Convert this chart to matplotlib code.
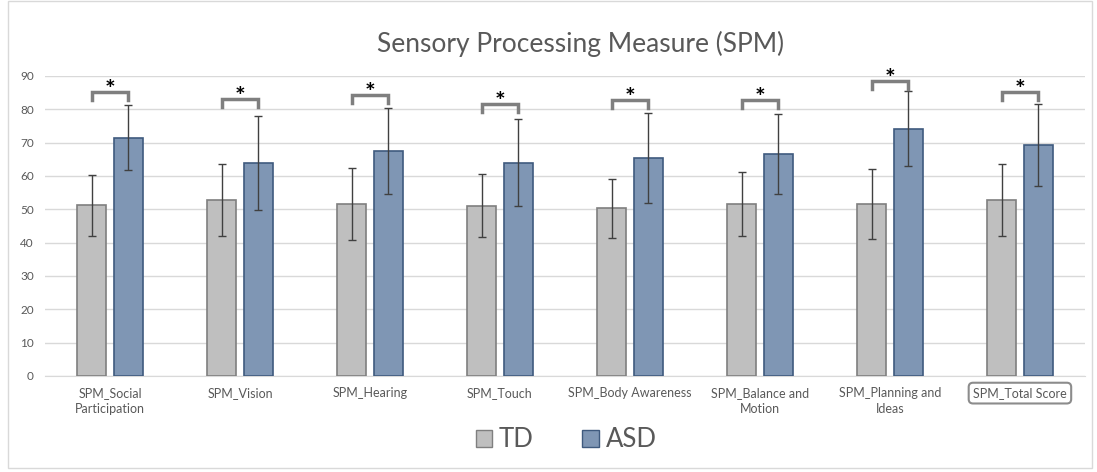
import numpy as np
import matplotlib
matplotlib.use('Agg')
import matplotlib.pyplot as plt
from matplotlib.patches import Rectangle, Patch

plt.rcParams['font.family'] = ['Lato', 'DejaVu Sans']

# data
categories = ['SPM_Social\nParticipation', 'SPM_Vision', 'SPM_Hearing', 'SPM_Touch',
              'SPM_Body Awareness', 'SPM_Balance and\nMotion', 'SPM_Planning and\nIdeas',
              'SPM_Total Score']
td_mean = [51.2, 52.9, 51.6, 51.1, 50.3, 51.6, 51.6, 52.9]
td_err = [9.1, 10.8, 10.8, 9.5, 8.8, 9.7, 10.6, 10.8]
asd_mean = [71.5, 63.9, 67.5, 63.9, 65.3, 66.6, 74.2, 69.2]
asd_err = [9.6, 14.0, 12.8, 13.0, 13.5, 12.0, 11.2, 12.3]
bracket_top = [85.1, 83.0, 84.2, 81.6, 82.7, 82.7, 88.5, 85.1]

td_color = '#BFBFBF'
td_edge = '#7F7F7F'
asd_color = '#7F96B4'
asd_edge = '#3F5A7E'
text_gray = '#595959'

fig = plt.figure(figsize=(10.97, 4.72), dpi=100)
ax = fig.add_axes([0.041, 0.2034, 0.948, 0.636])

x = np.arange(len(categories))
w = 0.225
off = 0.14

ax.bar(x - off, td_mean, w, color=td_color, edgecolor=td_edge, lw=1.2, zorder=3,
       yerr=td_err, error_kw=dict(ecolor='#404040', elinewidth=1, capsize=3, capthick=1))
ax.bar(x + off, asd_mean, w, color=asd_color, edgecolor=asd_edge, lw=1.2, zorder=3,
       yerr=asd_err, error_kw=dict(ecolor='#404040', elinewidth=1, capsize=3, capthick=1))

# significance brackets
for i, b in enumerate(bracket_top):
    ax.plot([x[i] - off, x[i] - off, x[i] + off, x[i] + off], [b - 2.4, b, b, b - 2.4],
            color='#7F7F7F', lw=2.5, clip_on=False, zorder=4, solid_joinstyle='miter')
    ax.text(x[i], b + 0.4, '*', ha='center', va='center', fontsize=18, fontweight='bold',
            color='black', clip_on=False)

ax.set_ylim(0, 90)
ax.set_xlim(-0.5, len(categories) - 0.5)
ax.set_yticks(np.arange(0, 91, 10))
ax.yaxis.grid(True, color='#D9D9D9', lw=1, zorder=0)
for s in ['top', 'right', 'left']:
    ax.spines[s].set_visible(False)
ax.spines['bottom'].set_color('#D9D9D9')
ax.tick_params(length=0, colors=text_gray, labelsize=8.5)
ax.tick_params(axis='y', pad=8)
ax.set_xticks(x)
ax.set_xticklabels(categories, fontsize=9, color=text_gray, linespacing=1.4)
ax.tick_params(axis='x', pad=8)
last = ax.get_xticklabels()[-1]
last.set_bbox(dict(boxstyle='round,pad=0.35', fc='white', ec='#8C8C8C', lw=1.5))

fig.suptitle('Sensory Processing Measure (SPM)', x=0.529, y=0.935, fontsize=19, color=text_gray)

handles = [Patch(facecolor=td_color, edgecolor=td_edge, label='TD'),
           Patch(facecolor=asd_color, edgecolor=asd_edge, label='ASD')]
fig.legend(handles=handles, loc='center', bbox_to_anchor=(0.516, 0.068), ncol=2, frameon=False,
           fontsize=18.5, handlelength=0.65, handleheight=0.65, handletextpad=0.25,
           columnspacing=1.9, labelcolor=text_gray)

fig.patches.append(Rectangle((0.007, 0.008), 0.988, 0.99, transform=fig.transFigure,
                             fill=False, ec='#D9D9D9', lw=1))

fig.savefig('out.png', dpi=100)
